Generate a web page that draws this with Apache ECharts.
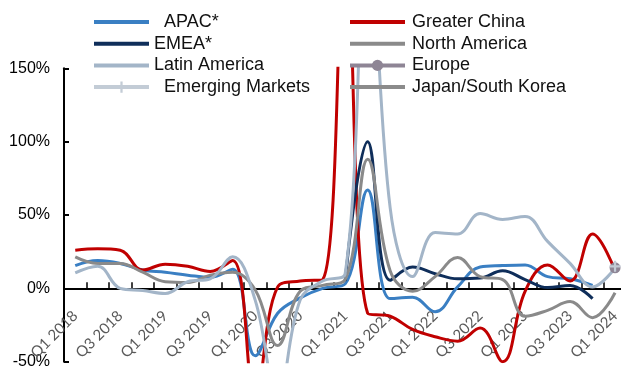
<!DOCTYPE html>
<html>
<head>
<meta charset="utf-8">
<script src="https://cdn.jsdelivr.net/npm/echarts@6/dist/echarts.min.js"></script>
<style>
  html, body { margin: 0; padding: 0; background: #fff; }
  #chart { width: 621px; height: 367px; }
</style>
</head>
<body>
<div id="chart"></div>
<script>
// Quarterly year-over-year change by region
const quarters = [
  'Q1 2018', 'Q2 2018', 'Q3 2018', 'Q4 2018',
  'Q1 2019', 'Q2 2019', 'Q3 2019', 'Q4 2019',
  'Q1 2020', 'Q2 2020', 'Q3 2020', 'Q4 2020',
  'Q1 2021', 'Q2 2021', 'Q3 2021', 'Q4 2021',
  'Q1 2022', 'Q2 2022', 'Q3 2022', 'Q4 2022',
  'Q1 2023', 'Q2 2023', 'Q3 2023', 'Q4 2023',
  'Q1 2024'
];

const apac = [15.5, 19, 17, 12.5, 11, 9, 7.5, 13, -46, -17, -6.5, 0, 3, 67, -7, -6, -16, 1, 14.5, 15.5, 16, 8, 6.5, 2, null];
const greaterChina = [26, 27, 26, 12.5, 16.5, 15, 11.5, 19, -75, 1, 5, 6, 240, -17, -19, -28, -33, -36, -27, -50, -2, 16, 5, 37, 12];
const emea = [null, null, null, null, null, null, null, null, null, null, null, null, 5, 100, 5.5, 14.5, 10, 6.5, 7, 12, 6, 0.5, 2, -7, null];
const northAmerica = [21.5, 17, 17, 11, 4.5, 4, 9, 11, -1, -39, -2, 2, 6, 88, 12, -2, 8, 21, 8, 6, -19, -15, -9, -20, -3];
const latinAmerica = [10.5, 15, 0, -1.5, -3.5, 4.5, 6.5, 21.5, -8, -75, -8, 5, 10, 260, 55, 8, 38, 37, 51, 47, 49, 32, 17, 1, 14];
const europe = [['Q1 2024', 14]];
const emergingMarkets = [['Q1 2024', 15]];
const japanSouthKorea = [];

const yMin = -50, yMax = 150, yStep = 50;

// plot area
const gridTop = 68.3, gridHeight = 293.4;
// the category axis sits on the 0% line
const zeroOffset = -gridHeight * (0 - yMin) / (yMax - yMin);

const PLUS = 'path://M4,0H6V4H10V6H6V10H4V6H0V4H4Z';
const HIDDEN = { color: 'rgba(0,0,0,0)', borderWidth: 0 };

function lineSeries(name, data, color, extra) {
  return Object.assign({
    name: name,
    type: 'line',
    data: data,
    smooth: 0.4,
    symbol: 'none',
    showSymbol: false,
    clip: true,
    connectNulls: false,
    lineStyle: { color: color, width: 3 },
    itemStyle: { color: color },
    emphasis: { disabled: true }
  }, extra || {});
}

const legendFont = 'Liberation Sans, Arial, sans-serif';
const legendText = {
  fontFamily: legendFont,
  fontSize: 18,
  lineHeight: 18,
  color: '#111',
  rich: {
    ind: { fontFamily: legendFont, fontSize: 18, lineHeight: 18, color: '#111', padding: [0, 0, 0, 10] }
  }
};
const indented = ['APAC*', 'Emerging Markets'];
const withMarker = ['Europe', 'Emerging Markets'];

function legendItems(names) {
  return names.map(function (n) {
    return withMarker.indexOf(n) >= 0 ? { name: n } : { name: n, itemStyle: HIDDEN };
  });
}

const legendBase = {
  orient: 'vertical',
  top: 13,
  padding: 0,
  itemWidth: 55,
  itemHeight: 14,
  itemGap: 3.7,
  selectedMode: false,
  textStyle: legendText,
  lineStyle: { width: 4 },
  formatter: function (name) {
    return indented.indexOf(name) >= 0 ? '{ind|' + name + '}' : name;
  }
};

const chart = echarts.init(document.getElementById('chart'), null, { renderer: 'canvas' });

chart.setOption({
  animation: false,
  backgroundColor: '#ffffff',
  grid: {
    left: 64, top: gridTop, width: 562.3, height: gridHeight,
    containLabel: false, outerBoundsMode: 'none'
  },
  legend: [
    Object.assign({}, legendBase, {
      left: 92,
      data: legendItems(['APAC*', 'EMEA*', 'Latin America', 'Emerging Markets'])
    }),
    Object.assign({}, legendBase, {
      left: 348,
      data: legendItems(['Greater China', 'North America', 'Europe', 'Japan/South Korea']),
      textStyle: Object.assign({}, legendText, { padding: [0, 0, 0, 2] })
    })
  ],
  xAxis: {
    type: 'category',
    data: quarters,
    boundaryGap: true,
    offset: zeroOffset,
    axisLine: { onZero: false, lineStyle: { color: '#000', width: 2 } },
    axisTick: { show: true, inside: true, length: 6, interval: 0, lineStyle: { color: '#000', width: 1.5 } },
    axisLabel: {
      interval: 1,
      rotate: 45,
      margin: 25,
      fontFamily: 'Lato, sans-serif',
      fontSize: 15,
      color: '#595959'
    },
    splitLine: { show: false }
  },
  yAxis: {
    type: 'value',
    min: yMin,
    max: yMax,
    interval: yStep,
    axisLine: { show: true, lineStyle: { color: '#000', width: 2 } },
    axisTick: { show: true, inside: true, length: 5, lineStyle: { color: '#000', width: 2 } },
    axisLabel: {
      formatter: '{value}%',
      margin: 14,
      fontFamily: legendFont,
      fontSize: 16,
      color: '#000'
    },
    splitLine: { show: false }
  },
  series: [
    lineSeries('APAC*', apac, '#3a7fc3'),
    lineSeries('Greater China', greaterChina, '#c00000'),
    lineSeries('EMEA*', emea, '#0f2e5a'),
    lineSeries('North America', northAmerica, '#8a8a8a'),
    lineSeries('Latin America', latinAmerica, '#a3b5c8'),
    lineSeries('Europe', europe, '#8e8595', { symbol: 'circle', symbolSize: 11, showSymbol: true, z: 5 }),
    lineSeries('Emerging Markets', emergingMarkets, '#c3ccd6', { symbol: PLUS, symbolSize: 11, showSymbol: true, z: 6 }),
    lineSeries('Japan/South Korea', japanSouthKorea, '#8b8b8b')
  ]
});
</script>
</body>
</html>
